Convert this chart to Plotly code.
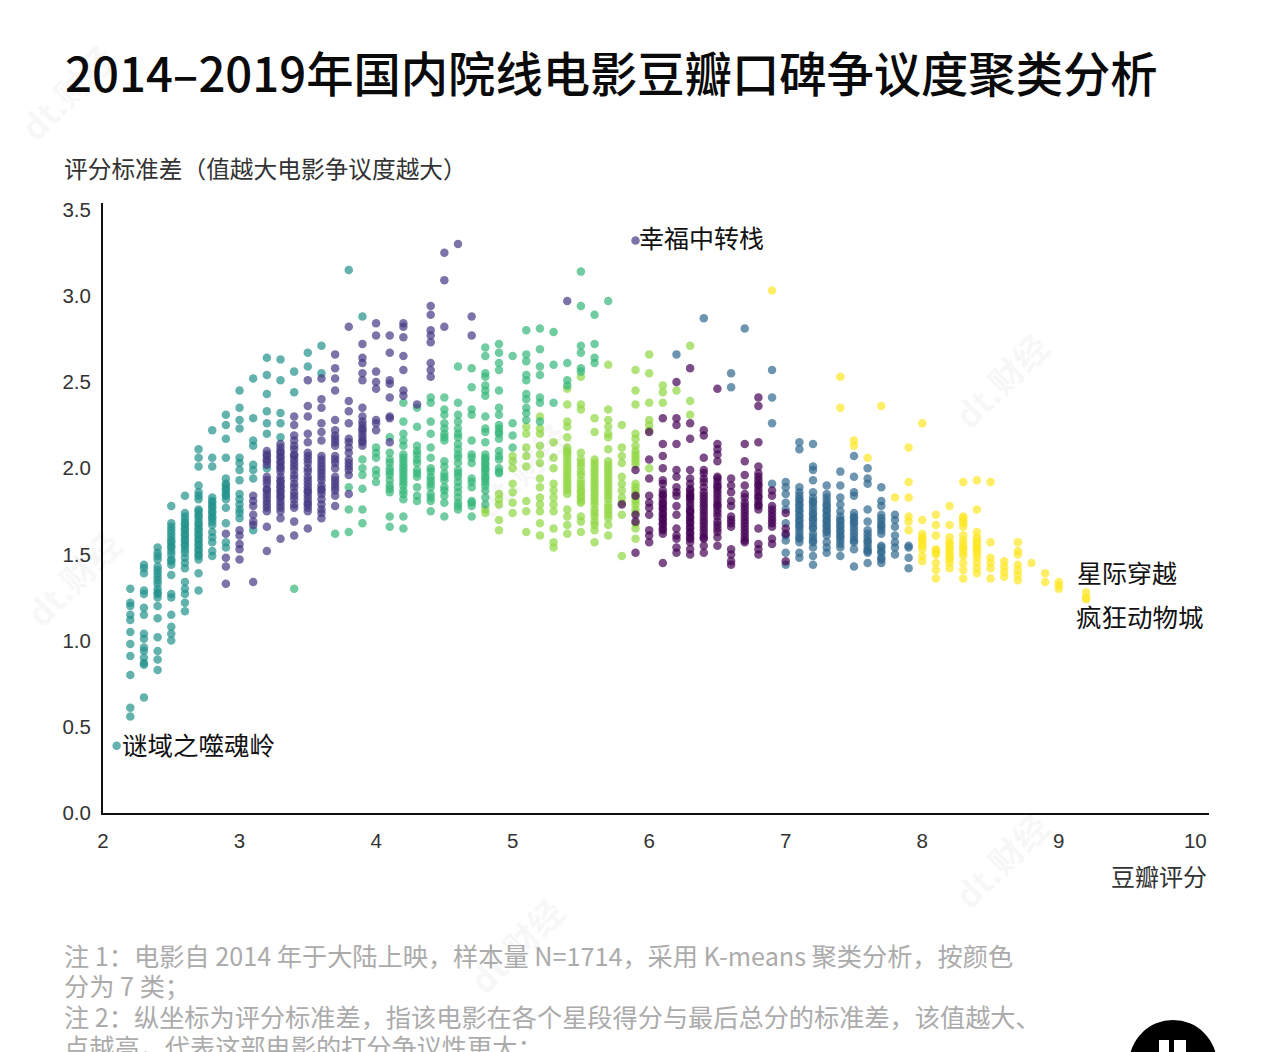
import plotly.graph_objects as go

W, H = 1280, 1052
L, R, T, B = 103, 1209, 203, 813

# ---------- data: x columns (Douban score) and y values (rating std dev) per cluster
teal_x = [2.1, 2.2, 2.3, 2.4, 2.5, 2.6, 2.7, 2.8, 2.9, 3.0, 3.1, 3.2, 3.3, 3.4, 3.5, 3.6, 3.8, 3.9]
teal_y = [
    [0.39],
    [1.30, 1.22, 1.20, 1.15, 1.12, 1.05, 0.98, 0.91, 0.80, 0.61, 0.56],
    [1.44, 1.42, 1.39, 1.29, 1.27, 1.19, 1.15, 1.04, 1.01, 0.96, 0.94, 0.90, 0.87, 0.86, 0.67],
    [1.54, 1.51, 1.49, 1.47, 1.43, 1.41, 1.39, 1.37, 1.35, 1.33, 1.30, 1.28, 1.27, 1.25, 1.20, 1.13, 1.02, 0.94, 0.89, 0.83],
    [1.78, 1.68, 1.66, 1.64, 1.62, 1.60, 1.58, 1.57, 1.55, 1.54, 1.52, 1.50, 1.47, 1.46, 1.44, 1.38, 1.27, 1.25, 1.15, 1.08, 1.04, 1.00],
    [1.84, 1.74, 1.72, 1.70, 1.68, 1.67, 1.65, 1.64, 1.62, 1.61, 1.59, 1.58, 1.56, 1.55, 1.53, 1.51, 1.48, 1.45, 1.42, 1.34, 1.30, 1.27, 1.22, 1.17],
    [2.11, 2.06, 2.01, 1.90, 1.86, 1.84, 1.82, 1.76, 1.75, 1.73, 1.72, 1.70, 1.68, 1.67, 1.65, 1.64, 1.62, 1.61, 1.59, 1.58, 1.56, 1.55, 1.53, 1.52, 1.50, 1.49, 1.47, 1.39, 1.29],
    [2.22, 2.06, 2.01, 1.83, 1.81, 1.80, 1.78, 1.77, 1.75, 1.74, 1.72, 1.71, 1.69, 1.67, 1.63, 1.60, 1.57, 1.52, 1.49],
    [2.31, 2.25, 2.17, 2.06, 1.94, 1.91, 1.90, 1.88, 1.87, 1.85, 1.84, 1.82, 1.77, 1.68, 1.57, 1.54],
    [2.45, 2.35, 2.28, 2.23, 2.06, 2.03, 1.99, 1.93, 1.85, 1.82, 1.79, 1.76, 1.74, 1.71],
    [2.52, 2.29, 2.16, 2.13, 2.02, 1.99, 1.94, 1.64],
    [2.64, 2.54, 2.43, 2.33, 2.26, 2.20, 2.00],
    [2.63, 2.51, 2.32, 2.26, 2.18],
    [2.56, 2.44],
    [2.67, 2.59],
    [2.71, 2.55],
    [3.15],
    [2.88],
]

purple_x = [2.9, 3.0, 3.1, 3.2, 3.3, 3.4, 3.5, 3.6, 3.7, 3.8, 3.9, 4.0, 4.1, 4.2, 4.3, 4.4, 4.5, 4.6, 4.7, 5.4, 5.9]
purple_y = [
    [1.62, 1.48, 1.43, 1.33],
    [1.64, 1.61, 1.56, 1.53, 1.47],
    [1.84, 1.81, 1.78, 1.73, 1.69, 1.67, 1.34],
    [2.10, 2.08, 2.07, 2.05, 2.04, 2.02, 1.95, 1.93, 1.91, 1.88, 1.87, 1.85, 1.83, 1.81, 1.79, 1.77, 1.75, 1.66, 1.52],
    [2.14, 2.12, 2.10, 2.09, 2.07, 2.06, 2.04, 2.03, 2.01, 2.00, 1.98, 1.95, 1.93, 1.92, 1.90, 1.89, 1.87, 1.86, 1.84, 1.83, 1.81, 1.79, 1.77, 1.75, 1.71, 1.59],
    [2.30, 2.25, 2.19, 2.16, 2.13, 2.11, 2.08, 2.07, 2.05, 2.03, 2.01, 1.99, 1.96, 1.94, 1.91, 1.89, 1.86, 1.84, 1.82, 1.79, 1.77, 1.69, 1.61],
    [2.51, 2.36, 2.30, 2.20, 2.15, 2.09, 2.07, 2.05, 2.03, 2.00, 1.98, 1.95, 1.93, 1.91, 1.89, 1.87, 1.86, 1.84, 1.82, 1.80, 1.79, 1.77, 1.75, 1.65],
    [2.52, 2.40, 2.35, 2.26, 2.21, 2.16, 2.07, 2.05, 2.03, 2.01, 1.99, 1.97, 1.95, 1.93, 1.90, 1.88, 1.87, 1.85, 1.82, 1.79, 1.76, 1.74, 1.71],
    [2.66, 2.58, 2.52, 2.45, 2.28, 2.22, 2.19, 2.17, 2.15, 2.13, 2.07, 2.05, 2.03, 2.00, 1.95, 1.93, 1.91, 1.89, 1.87, 1.84, 1.78],
    [2.82, 2.39, 2.33, 2.26, 2.17, 2.15, 2.12, 2.09, 2.05, 2.03, 2.01, 1.99, 1.96, 1.85],
    [2.72, 2.64, 2.61, 2.55, 2.51, 2.35, 2.30, 2.27, 2.25, 2.23, 2.22, 2.20, 2.18, 2.16, 2.15, 2.13],
    [2.84, 2.77, 2.56, 2.50, 2.46, 2.28, 2.26, 2.22],
    [2.77, 2.67, 2.51, 2.49, 2.41, 2.30, 2.29, 2.15],
    [2.84, 2.82, 2.76, 2.65, 2.57, 2.45, 2.42],
    [2.37],
    [2.94, 2.89, 2.80, 2.77, 2.73, 2.61, 2.57, 2.53],
    [3.25, 3.09, 2.82],
    [3.30],
    [2.88, 2.77],
    [2.97],
    [3.32],
]

green_x = [3.4, 3.7, 3.8, 3.9, 4.0, 4.1, 4.2, 4.3, 4.4, 4.5, 4.6, 4.7, 4.8, 4.9, 5.0, 5.1, 5.2, 5.3, 5.4, 5.5, 5.6, 5.7]
green_y = [
    [1.30],
    [1.62],
    [1.89, 1.76, 1.63],
    [2.05, 2.00, 1.96, 1.88, 1.76, 1.68],
    [2.12, 2.09, 2.06, 1.99, 1.96, 1.92],
    [2.18, 2.09, 2.05, 2.03, 2.00, 1.98, 1.96, 1.93, 1.90, 1.88, 1.86, 1.72, 1.66],
    [2.38, 2.27, 2.20, 2.16, 2.13, 2.08, 2.06, 2.04, 2.02, 2.00, 1.98, 1.96, 1.94, 1.92, 1.90, 1.87, 1.85, 1.82, 1.72, 1.65],
    [2.35, 2.24, 2.13, 2.10, 2.08, 2.05, 2.03, 1.99, 1.97, 1.95, 1.89, 1.84, 1.81],
    [2.41, 2.38, 2.27, 2.20, 2.12, 2.06, 2.00, 1.98, 1.95, 1.93, 1.91, 1.89, 1.85, 1.83, 1.81, 1.75],
    [2.41, 2.34, 2.31, 2.26, 2.23, 2.20, 2.18, 2.16, 2.04, 2.01, 1.97, 1.95, 1.93, 1.89, 1.87, 1.84, 1.80, 1.72],
    [2.59, 2.38, 2.31, 2.27, 2.23, 2.20, 2.18, 2.14, 2.11, 2.08, 2.06, 2.03, 1.99, 1.97, 1.95, 1.92, 1.89, 1.86, 1.83, 1.80, 1.78, 1.76],
    [2.58, 2.47, 2.34, 2.31, 2.16, 2.08, 2.06, 2.03, 1.94, 1.92, 1.89, 1.81, 1.80, 1.78, 1.72],
    [2.70, 2.65, 2.55, 2.53, 2.48, 2.45, 2.42, 2.30, 2.23, 2.21, 2.15, 2.08, 2.06, 2.05, 2.03, 2.02, 2.00, 1.99, 1.97, 1.95, 1.94, 1.92, 1.90, 1.87, 1.83, 1.79],
    [2.72, 2.67, 2.61, 2.57, 2.45, 2.35, 2.31, 2.25, 2.23, 2.21, 2.20, 2.17, 2.10, 2.07, 2.05, 2.00, 1.98, 1.97],
    [2.65, 2.26, 2.19, 2.12],
    [2.80, 2.66, 2.62, 2.54, 2.51, 2.43, 2.40, 2.35, 2.32, 2.28],
    [2.81, 2.69, 2.59, 2.54, 2.41, 2.38, 2.27],
    [2.79, 2.60, 2.38],
    [2.61, 2.51, 2.48],
    [3.14, 2.94, 2.71, 2.67, 2.58, 2.56],
    [2.89, 2.72, 2.64, 2.61],
    [2.97],
]

lime_x = [4.8, 4.9, 5.0, 5.1, 5.2, 5.3, 5.4, 5.5, 5.6, 5.7, 5.8, 5.9, 6.0, 6.1, 6.2, 6.3]
lime_y = [
    [1.76, 1.74],
    [1.85, 1.82, 1.79, 1.70, 1.64],
    [2.07, 2.04, 2.00, 1.91, 1.86, 1.80, 1.74],
    [2.24, 2.20, 2.12, 2.07, 2.01, 1.81, 1.75, 1.63],
    [2.30, 2.23, 2.20, 2.13, 2.08, 2.03, 1.94, 1.89, 1.83, 1.79, 1.75, 1.68, 1.61],
    [2.15, 2.06, 2.00, 1.91, 1.87, 1.83, 1.79, 1.75, 1.65, 1.57, 1.54],
    [2.46, 2.37, 2.27, 2.24, 2.18, 2.12, 2.10, 2.09, 2.07, 2.05, 2.03, 2.01, 1.99, 1.97, 1.95, 1.93, 1.91, 1.89, 1.87, 1.85, 1.76, 1.72, 1.67, 1.62],
    [2.53, 2.37, 2.34, 2.09, 2.05, 2.03, 2.01, 1.98, 1.96, 1.93, 1.91, 1.89, 1.87, 1.86, 1.84, 1.83, 1.81, 1.80, 1.72, 1.69, 1.63],
    [2.29, 2.21, 2.05, 2.03, 2.01, 1.99, 1.97, 1.95, 1.93, 1.91, 1.89, 1.87, 1.85, 1.83, 1.81, 1.79, 1.76, 1.74, 1.72, 1.69, 1.67, 1.64, 1.57],
    [2.60, 2.34, 2.28, 2.24, 2.20, 2.18, 2.11, 2.04, 2.02, 2.00, 1.98, 1.96, 1.94, 1.92, 1.90, 1.88, 1.86, 1.84, 1.82, 1.79, 1.77, 1.75, 1.73, 1.71, 1.67, 1.61],
    [2.25, 2.12, 2.07, 2.03, 1.95, 1.91, 1.87, 1.83, 1.80, 1.73, 1.49],
    [2.57, 2.45, 2.37, 2.20, 2.17, 2.13, 2.10, 2.08, 2.06, 2.04, 2.02, 1.91, 1.89, 1.87, 1.85, 1.83, 1.81, 1.79, 1.76, 1.74, 1.68, 1.65, 1.59],
    [2.66, 2.55, 2.38, 2.28, 2.25, 2.22, 2.00],
    [2.48, 2.44, 2.38],
    [2.45],
    [2.71, 2.39, 2.31],
]

plum_x = [5.8, 5.9, 6.0, 6.1, 6.2, 6.3, 6.4, 6.5, 6.6, 6.7, 6.8, 6.9, 7.0]
plum_y = [
    [1.79],
    [1.99, 1.84, 1.73, 1.69, 1.51],
    [2.21, 2.05, 1.94, 1.84, 1.80, 1.77, 1.73, 1.64, 1.61, 1.57],
    [2.29, 2.14, 2.07, 2.00, 1.93, 1.91, 1.87, 1.85, 1.84, 1.82, 1.80, 1.79, 1.77, 1.76, 1.74, 1.73, 1.71, 1.70, 1.68, 1.67, 1.65, 1.64, 1.62, 1.45],
    [2.50, 2.29, 2.25, 2.14, 1.99, 1.95, 1.89, 1.86, 1.84, 1.78, 1.73, 1.65, 1.61, 1.59, 1.54, 1.51],
    [2.58, 2.26, 2.17, 1.99, 1.94, 1.91, 1.88, 1.87, 1.85, 1.84, 1.83, 1.82, 1.80, 1.78, 1.76, 1.75, 1.74, 1.72, 1.71, 1.69, 1.68, 1.66, 1.65, 1.63, 1.62, 1.60, 1.59, 1.57, 1.53, 1.50],
    [2.22, 2.19, 2.06, 1.99, 1.97, 1.94, 1.92, 1.89, 1.86, 1.84, 1.82, 1.80, 1.78, 1.76, 1.74, 1.72, 1.70, 1.68, 1.66, 1.64, 1.62, 1.60, 1.59, 1.55, 1.51],
    [2.46, 2.14, 2.11, 2.08, 2.04, 1.95, 1.94, 1.92, 1.90, 1.89, 1.87, 1.85, 1.83, 1.81, 1.79, 1.78, 1.76, 1.74, 1.72, 1.69, 1.67, 1.65, 1.63, 1.60, 1.55],
    [1.94, 1.90, 1.86, 1.81, 1.78, 1.72, 1.70, 1.68, 1.66, 1.53, 1.50, 1.46, 1.44],
    [2.14, 2.04, 1.96, 1.90, 1.85, 1.83, 1.80, 1.78, 1.76, 1.74, 1.72, 1.70, 1.68, 1.66, 1.64, 1.62, 1.60, 1.58, 1.57],
    [2.41, 2.36, 2.15, 2.01, 1.97, 1.95, 1.93, 1.91, 1.90, 1.88, 1.86, 1.84, 1.83, 1.81, 1.79, 1.78, 1.76, 1.65, 1.56, 1.53, 1.50],
    [1.87, 1.84, 1.78, 1.76, 1.74, 1.72, 1.70, 1.68, 1.66, 1.59, 1.56],
    [1.74, 1.65, 1.62, 1.46],
]

blue_x = [6.2, 6.4, 6.6, 6.7, 6.9, 7.0, 7.1, 7.2, 7.3, 7.4, 7.5, 7.6, 7.7, 7.8, 7.9]
blue_y = [
    [2.66],
    [2.87],
    [2.55, 2.47],
    [2.81],
    [2.57, 2.41, 2.26, 1.91],
    [1.92, 1.89, 1.85, 1.80, 1.76, 1.68, 1.61, 1.58, 1.51, 1.44],
    [2.15, 2.11, 1.89, 1.86, 1.84, 1.82, 1.81, 1.79, 1.78, 1.76, 1.75, 1.73, 1.72, 1.70, 1.69, 1.67, 1.66, 1.64, 1.62, 1.60, 1.59, 1.57, 1.51, 1.48],
    [2.14, 2.01, 1.99, 1.93, 1.86, 1.83, 1.81, 1.80, 1.78, 1.76, 1.74, 1.73, 1.71, 1.70, 1.68, 1.66, 1.65, 1.62, 1.60, 1.58, 1.57, 1.54, 1.49, 1.44],
    [1.90, 1.85, 1.83, 1.81, 1.79, 1.78, 1.76, 1.75, 1.73, 1.72, 1.70, 1.69, 1.67, 1.66, 1.64, 1.63, 1.61, 1.57, 1.54, 1.51],
    [1.98, 1.90, 1.83, 1.79, 1.75, 1.72, 1.70, 1.69, 1.67, 1.66, 1.64, 1.63, 1.61, 1.60, 1.58, 1.56, 1.54, 1.49],
    [2.07, 1.95, 1.86, 1.84, 1.74, 1.72, 1.71, 1.69, 1.68, 1.66, 1.64, 1.62, 1.60, 1.58, 1.57, 1.53, 1.43],
    [2.00, 1.94, 1.91, 1.76, 1.69, 1.64, 1.62, 1.60, 1.58, 1.57, 1.55, 1.53, 1.52, 1.51, 1.45],
    [1.89, 1.81, 1.78, 1.73, 1.71, 1.69, 1.67, 1.66, 1.64, 1.62, 1.55, 1.54, 1.52, 1.51, 1.48, 1.47, 1.45],
    [1.73, 1.70, 1.66, 1.61, 1.57, 1.54, 1.50],
    [1.55, 1.54, 1.48, 1.42],
]

yellow_x = [6.9, 7.4, 7.5, 7.6, 7.7, 7.8, 7.9, 8.0, 8.1, 8.2, 8.3, 8.4, 8.5, 8.6, 8.7, 8.8, 8.9, 9.0, 9.2]
yellow_y = [
    [3.03],
    [2.53, 2.35],
    [2.16, 2.13],
    [2.06],
    [2.36],
    [1.83],
    [2.12, 1.92, 1.83, 1.72, 1.69, 1.64],
    [2.26, 1.70, 1.62, 1.60, 1.59, 1.58, 1.56, 1.55, 1.53, 1.49, 1.46],
    [1.73, 1.67, 1.61, 1.53, 1.52, 1.51, 1.50, 1.45, 1.41, 1.36],
    [1.78, 1.67, 1.60, 1.57, 1.56, 1.54, 1.53, 1.51, 1.50, 1.48, 1.47, 1.45, 1.42],
    [1.92, 1.72, 1.71, 1.69, 1.68, 1.66, 1.61, 1.58, 1.56, 1.54, 1.53, 1.51, 1.49, 1.45, 1.41, 1.36],
    [1.93, 1.76, 1.63, 1.60, 1.58, 1.57, 1.55, 1.54, 1.53, 1.52, 1.50, 1.48, 1.45, 1.42, 1.39],
    [1.92, 1.57, 1.48, 1.45, 1.42, 1.36],
    [1.46, 1.43, 1.40, 1.37],
    [1.57, 1.52, 1.50, 1.44, 1.41, 1.38, 1.35],
    [1.45],
    [1.39, 1.34],
    [1.34, 1.32, 1.30],
    [1.28, 1.25, 1.24],
]

clusters = [
    ("类 1", yellow_x, yellow_y, "#fde725"),
    ("类 2", blue_x, blue_y, "#31688e"),
    ("类 3", lime_x, lime_y, "#90d743"),
    ("类 4", green_x, green_y, "#35b779"),
    ("类 5", teal_x, teal_y, "#21918c"),
    ("类 6", purple_x, purple_y, "#443983"),
    ("类 7", plum_x, plum_y, "#440154"),
]

x_ticks = [2, 3, 4, 5, 6, 7, 8, 9, 10]
y_ticks = [0, 0.5, 1, 1.5, 2, 2.5, 3, 3.5]
y_tick_text = ["0.0", "0.5", "1.0", "1.5", "2.0", "2.5", "3.0", "3.5"]

TITLE = "2014–2019年国内院线电影豆瓣口碑争议度聚类分析"
Y_TITLE = "评分标准差（值越大电影争议度越大）"
X_TITLE = "豆瓣评分"
NOTES = [
    "注 1：电影自 2014 年于大陆上映，样本量 N=1714，采用 K-means 聚类分析，按颜色",
    "分为 7 类；",
    "注 2：纵坐标为评分标准差，指该电影在各个星段得分与最后总分的标准差，该值越大、",
    "点越高，代表这部电影的打分争议性更大；",
]
CJK = "Noto Sans CJK SC"
TICK_FONT = dict(family="Liberation Sans", size=20.5, color="#333333")

def px(x):
    return (x - L) / (R - L)

def py(y):
    return (B - y) / (B - T)

fig = go.Figure()
for name, xs, ys, color in clusters:
    fx, fy = [], []
    for x, col in zip(xs, ys):
        for v in col:
            fx.append(x)
            fy.append(v)
    fig.add_trace(go.Scatter(
        x=fx, y=fy, mode="markers", name=name, showlegend=False, cliponaxis=False,
        marker=dict(color=color, size=8.5, opacity=0.7, line=dict(width=0)),
    ))

ann = []
def label(x, y, text, size=25, color="#111111", anchor="left", angle=0):
    ann.append(dict(
        xref="paper", yref="paper", x=px(x), y=py(y), text=text, showarrow=False,
        xanchor=anchor, yanchor="middle", textangle=angle, align="left",
        font=dict(family=CJK, size=size, color=color),
    ))

# faint watermarks
for wx, wy in [(66, 92), (1000, 380), (72, 578), (520, 470), (1000, 860), (515, 945)]:
    label(wx, wy, "<b>dt.财经</b>", size=34, color="rgba(0,0,0,0.055)", anchor="center", angle=-45)

label(62, 167.5, Y_TITLE, size=23.7, color="#333333")
label(1209, 875, X_TITLE, size=24, color="#333333", anchor="right")
label(120, 743, "谜域之噬魂岭", size=25.5)
label(637, 237, "幸福中转栈", size=25)
label(1075, 572, "星际穿越", size=25)
label(1074, 615, "疯狂动物城", size=25.5)
for i, line in enumerate(NOTES):
    label(62, 955 + i * 30.3, line, size=25.2, color="#ababab")

shapes = [
    dict(type="circle", xref="paper", yref="paper", x0=px(1129), x1=px(1217), y0=py(1108), y1=py(1020),
         fillcolor="#000000", line=dict(width=0)),
    dict(type="rect", xref="paper", yref="paper", x0=px(1159), x1=px(1169), y0=py(1060), y1=py(1040),
         fillcolor="#ffffff", line=dict(width=0)),
    dict(type="rect", xref="paper", yref="paper", x0=px(1174), x1=px(1186), y0=py(1060), y1=py(1040),
         fillcolor="#ffffff", line=dict(width=0)),
]

fig.update_layout(
    width=W, height=H, paper_bgcolor="white", plot_bgcolor="white",
    margin=dict(l=L, r=W - R, t=T, b=H - B, pad=0),
    font=dict(family=CJK, color="#222222"),
    title=dict(text=TITLE, x=65 / W, xanchor="left", y=1 - 75 / H, yanchor="middle",
               font=dict(family=CJK, size=47.3, color="#0a0a0a", weight=500)),
    annotations=ann, shapes=shapes,
    xaxis=dict(range=[2, 10.1], tickvals=x_ticks, showgrid=False, zeroline=False,
               showline=True, linecolor="#111111", linewidth=2, ticks="outside", ticklen=8,
               tickcolor="rgba(0,0,0,0)", tickfont=TICK_FONT),
    yaxis=dict(range=[0, 3.538], tickvals=y_ticks, ticktext=y_tick_text, showgrid=False, zeroline=False,
               showline=True, linecolor="#111111", linewidth=2, ticks="outside", ticklen=6,
               tickcolor="rgba(0,0,0,0)", tickfont=TICK_FONT),
)

fig.write_html("out.html", config={"displayModeBar": False},
               post_script="document.body.style.margin='0';document.body.style.overflow='hidden';")
